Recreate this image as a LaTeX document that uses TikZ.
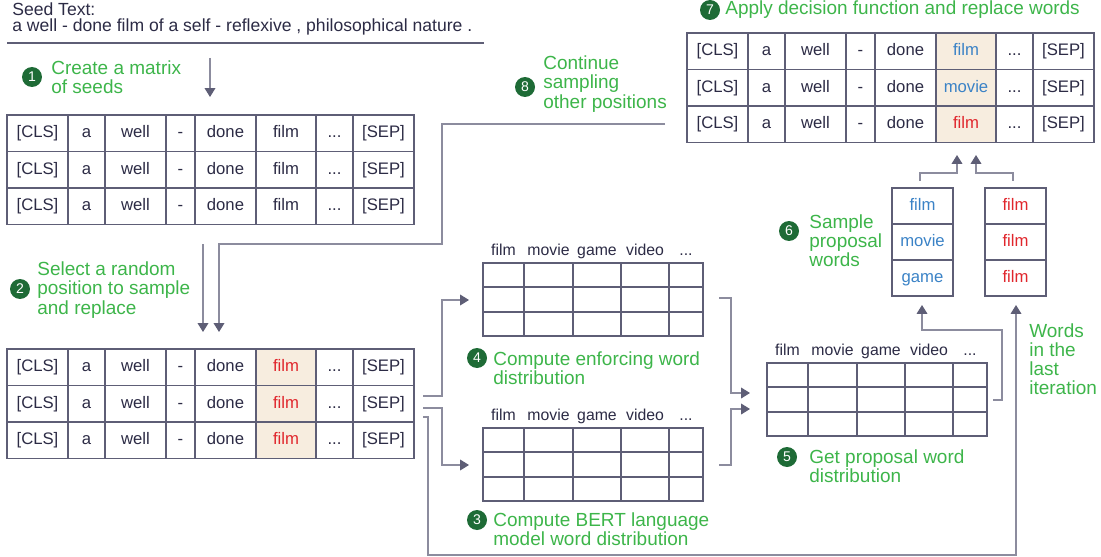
\documentclass[tikz,border=0pt]{standalone}
\usepackage{fontspec}
\setmainfont{Liberation Sans}
\usetikzlibrary{arrows.meta}
\definecolor{ink}{HTML}{2C2B45}
\definecolor{tline}{HTML}{5E5E76}
\definecolor{cline}{HTML}{8C8C9E}
\definecolor{stepgreen}{HTML}{3DB54A}
\definecolor{dotgreen}{HTML}{1E6B36}
\definecolor{wordred}{HTML}{E0262C}
\definecolor{wordblue}{HTML}{3A82C6}
\definecolor{pick}{HTML}{F7EDDF}
\newcommand\tdots{...}
\begin{document}
\begin{tikzpicture}[x=0.02cm,y=-0.02cm,
  every node/.style={inner sep=0pt,text=ink},
  cell/.style={draw=tline,line width=1.1pt,minimum height=0.73cm,text height=7pt,text depth=2pt,font=\fontsize{9.5}{11}\selectfont},
  dcell/.style={draw=tline,line width=1.1pt,minimum height=0.486cm},
  head/.style={text height=6.5pt,text depth=2pt,font=\fontsize{9}{10}\selectfont},
  stepnum/.style={circle,fill=dotgreen,minimum size=0.4cm,text=white,font=\fontsize{8}{8}\selectfont},
  steptext/.style={anchor=west,align=left,text=stepgreen,font=\fontsize{10.8}{10.9}\selectfont},
  flow/.style={draw=cline,line width=0.75pt,-{Triangle[length=5pt,width=6pt,color=tline]}}]
  \useasboundingbox (0,0) rectangle (1101,557);
  % seed text
  \node[anchor=west,font=\fontsize{10}{11}\selectfont] (seedhead) at (12,9) {Seed Text:};
  \node[anchor=west,font=\fontsize{10}{11}\selectfont] (seed) at (12,27) {a well - done film of a self - reflexive , philosophical nature .};
  \draw[tline,line width=0.9pt] (7,43) -- (484,43);
  % token matrices
  \foreach \r in {1,2,3}{
    \foreach \w/\cx/\cw/\c in {{[CLS]}/30.5/1.22/1, a/79.5/0.74/2, well/128.5/1.22/3, -/173.5/0.58/4, done/218.5/1.22/5, film/279/1.2/6, \tdots/327.5/0.74/7, {[SEP]}/376.5/1.22/8}
      \node[cell,minimum width=\cw cm] (m1-\r-\c) at (7+\cx,115+36.5*\r-18.25) {\w};
    \foreach \w/\cx/\cw/\c in {{[CLS]}/30.5/1.22/1, a/79.5/0.74/2, well/128.5/1.22/3, -/173.5/0.58/4, done/218.5/1.22/5, \tdots/327.5/0.74/7, {[SEP]}/376.5/1.22/8}{
      \node[cell,minimum width=\cw cm] (m2-\r-\c) at (7+\cx,349+36.5*\r-18.25) {\w};
      \node[cell,minimum width=\cw cm] (m3-\r-\c) at (687+\cx,33+36.5*\r-18.25) {\w};
    }
    \node[cell,minimum width=1.2cm,fill=pick,text=wordred] (m2-\r-6) at (286,349+36.5*\r-18.25) {film};
  }
  \foreach \w/\col [count=\r] in {film/wordblue,movie/wordblue,film/wordred}
    \node[cell,minimum width=1.2cm,fill=pick,text=\col] (m3-\r-6) at (966,33+36.5*\r-18.25) {\w};
  % distribution tables
  \foreach \t/\tx/\ty in {d1/483/263, d2/483/428, d3/767/363}{
    \foreach \r in {1,2,3}
      \foreach \cx/\cw [count=\c] in {20.5/0.82, 65.5/0.98, 114/0.96, 162/0.96, 203/0.68}
        \node[dcell,minimum width=\cw cm] (\t-\r-\c) at (\tx+\cx,\ty+24.33*\r-12.17) {};
    \foreach \w/\cx [count=\c] in {film/20.5, movie/65.5, game/114, video/162, \tdots/203}
      \node[head] (\t-h\c) at (\tx+\cx,\ty-11) {\w};
  }
  % proposal words and last words
  \foreach \w [count=\r] in {film,movie,game}
    \node[cell,minimum width=1.22cm,minimum height=0.72cm,text=wordblue] (p-\r) at (922.5,188+36*\r-18) {\w};
  \foreach \w [count=\r] in {film,film,film}
    \node[cell,minimum width=1.22cm,minimum height=0.72cm,text=wordred] (l-\r) at (1015.5,188+36*\r-18) {\w};
  % steps
  \node[stepnum] (n1) at (32,77) {1};
  \node[steptext] (t1) at (51,77.5) {Create a matrix\\of seeds};
  \node[stepnum] (n2) at (20,289) {2};
  \node[steptext] (t2) at (37,290) {Select a random\\position to sample\\and replace};
  \node[stepnum] (n3) at (477,520) {3};
  \node[steptext] (t3) at (493,529.5) {Compute BERT language\\model word distribution};
  \node[stepnum] (n4) at (477,358) {4};
  \node[steptext] (t4) at (493,368) {Compute enforcing word\\distribution};
  \node[stepnum] (n5) at (787,457) {5};
  \node[steptext] (t5) at (809,466.5) {Get proposal word\\distribution};
  \node[stepnum] (n6) at (789,231) {6};
  \node[steptext] (t6) at (809,241) {Sample\\proposal\\words};
  \node[stepnum] (n7) at (710,10) {7};
  \node[steptext] (t7) at (725,10) {Apply decision function and replace words};
  \node[stepnum] (n8) at (525,87) {8};
  \node[steptext] (t8) at (543,84) {Continue\\sampling\\other positions};
  \node[steptext] (tlast) at (1029,359) {Words\\in the\\last\\iteration};
  % connector ends
  \coordinate (seedout) at (210,58);
  \coordinate (m1in) at (210,97);
  \coordinate (m1out) at (203,244);
  \coordinate (m2in) at (203,332);
  \coordinate (m3out) at (665,124);
  \coordinate (loopin) at (219,332);
  \coordinate (m2outa) at (423,396);
  \coordinate (m2outb) at (423,408);
  \coordinate (m2outc) at (423,417);
  \coordinate (d1in) at (469,300);
  \coordinate (d2in) at (469,465);
  \coordinate (lin) at (1016,305);
  \coordinate (d1out) at (719,298);
  \coordinate (d2out) at (719,465);
  \coordinate (d3ina) at (750,393);
  \coordinate (d3inb) at (750,409);
  \coordinate (d3out) at (993,400);
  \coordinate (pin) at (922,305);
  \coordinate (pout) at (920,181);
  \coordinate (lout) at (1013,181);
  \coordinate (m3ina) at (957,155);
  \coordinate (m3inb) at (976,155);
  % connectors
  \draw[flow] (seedout) -- (m1in);
  \draw[flow] (m1out) -- (m2in);
  \draw[flow] (m3out) -| (442,244) -| (loopin);
  \draw[flow] (m2outa) -- ++(19,0) |- (d1in);
  \draw[flow] (m2outb) -- ++(19,0) |- (d2in);
  \draw[flow] (m2outc) -- ++(5,0) -- ++(0,138) -| (lin);
  \draw[flow] (d1out) -- ++(12,0) |- (d3ina);
  \draw[flow] (d2out) -- ++(12,0) |- (d3inb);
  \draw[flow] (d3out) -- ++(9,0) -- ++(0,-70) -| (pin);
  \draw[flow] (pout) -- ++(0,-8) -| (m3ina);
  \draw[flow] (lout) -- ++(0,-8) -| (m3inb);
\end{tikzpicture}
\end{document}
